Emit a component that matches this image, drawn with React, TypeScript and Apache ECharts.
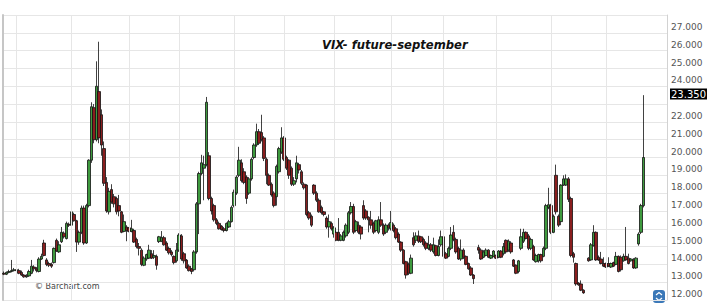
import React, { useEffect, useRef } from "react";
import * as echarts from "echarts";

// [open, close, low, high] per trading day, null = no data
const candlesA: ([number, number, number, number] | null)[] = [
  [13.0, 12.95, 12.9, 13.1], [12.95, 13.05, 12.9, 13.1], [13.05, 13.1, 13.0, 13.2], [13.1, 13.15, 13.05, 13.75],
  [13.15, 13.2, 13.1, 13.3], [13.2, 13.15, 13.05, 13.3], [13.15, 13.0, 12.95, 13.25], [13.05, 12.9, 12.85, 13.15],
  [12.9, 12.8, 12.75, 12.95], [12.8, 12.85, 12.75, 12.95], [12.85, 13.1, 12.8, 13.2], [13.0, 13.4, 12.95, 13.75],
  [13.35, 13.25, 13.1, 13.45], [13.25, 13.15, 13.05, 13.35], [13.1, 13.8, 13.05, 13.9], [13.8, 13.95, 13.75, 14.1],
  [14.7, 14.0, 13.95, 14.88], [13.75, 13.5, 13.4, 13.85], [13.55, 13.45, 13.35, 13.65], [13.5, 13.4, 13.3, 13.6],
  [13.6, 14.4, 13.55, 14.45], [14.85, 14.25, 14.2, 14.95], [14.2, 14.6, 14.15, 14.8], [14.77, 15.3, 14.7, 15.6],
  [15.25, 15.05, 14.95, 15.35], [14.95, 15.8, 14.9, 15.9], [15.75, 15.7, 15.6, 15.85], [15.7, 16.45, 15.65, 16.75],
  [16.3, 15.95, 15.9, 16.4], [15.95, 14.75, 14.2, 16.0], [14.75, 15.3, 14.6, 15.4], [15.3, 16.66, 15.2, 16.8],
  [16.66, 14.7, 14.6, 16.8], [14.7, 16.8, 14.65, 16.9], [16.8, 19.35, 16.7, 19.4], [19.35, 22.35, 19.2, 22.6],
  [22.3, 20.5, 20.3, 22.5], [20.5, 23.5, 20.4, 24.9], [23.2, 20.6, 20.3, 26.0], [21.9, 20.2, 19.6, 22.2],
  [20.0, 18.05, 17.9, 20.4], [18.1, 16.5, 16.4, 18.4], [16.45, 17.6, 16.3, 17.8], [17.7, 17.0, 16.9, 18.0],
  [17.3, 16.9, 16.7, 17.45], [17.2, 16.45, 16.3, 17.3], [16.8, 16.5, 16.2, 17.4], [16.45, 15.3, 15.25, 16.5],
  [15.35, 15.9, 15.3, 16.3], [15.6, 15.4, 14.8, 15.7],
];
const candlesB: ([number, number, number, number] | null)[] = [
  [15.55, 15.35, 15.3, 15.6], [15.35, 15.5, 15.3, 16.0], [15.4, 14.75, 14.7, 15.5], [14.9, 14.5, 14.4, 15.0],
  [14.5, 14.4, 14.0, 14.7], [14.3, 13.5, 13.4, 14.4], [13.45, 13.85, 13.4, 13.95], [13.8, 14.05, 13.7, 14.1],
  [13.85, 14.3, 13.8, 14.6], [14.1, 13.85, 13.8, 14.3], [13.9, 14.0, 13.8, 14.3], [13.95, 13.45, 13.2, 14.05],
  [14.78, 15.05, 14.7, 15.1], [14.8, 15.0, 14.75, 15.37], [15.0, 14.6, 14.55, 15.1], [14.7, 14.3, 14.25, 14.8],
  [14.4, 14.15, 14.05, 14.5], [14.2, 14.05, 13.95, 14.3], [13.95, 13.6, 13.5, 14.0], [13.7, 14.3, 13.6, 14.7],
  [14.3, 15.15, 14.2, 15.25], [15.1, 13.8, 13.7, 15.2], [14.1, 13.7, 13.55, 14.2], [13.74, 13.3, 13.25, 13.8],
  [13.4, 13.15, 13.1, 13.5], [13.25, 13.1, 12.95, 13.3], [13.2, 14.2, 13.1, 14.3], [14.2, 16.9, 14.1, 17.0],
  [16.9, 18.6, 15.2, 18.7], [18.6, 19.2, 18.5, 19.65], [18.9, 19.1, 17.1, 19.6], [19.1, 22.6, 19.0, 22.9],
  [19.6, 17.2, 17.1, 19.8], [17.2, 16.5, 16.3, 17.3], [16.8, 16.0, 15.9, 16.9], [16.0, 15.8, 15.7, 16.1],
  [15.8, 15.5, 15.45, 15.9], [15.65, 15.45, 15.4, 15.7], [15.5, 15.4, 15.3, 15.6], [15.4, 15.8, 15.35, 15.85],
  [15.6, 15.9, 15.55, 16.0], [15.9, 16.7, 15.85, 16.8], [16.8, 17.55, 16.7, 17.7], [17.5, 18.4, 17.4, 18.5],
  [18.5, 19.35, 18.4, 20.1], [19.2, 18.2, 18.1, 19.4], [18.7, 18.1, 18.0, 18.9], [18.4, 17.2, 16.9, 18.5],
  [17.5, 18.3, 17.4, 18.4], [18.3, 19.4, 18.2, 19.5],
];
const candlesC: ([number, number, number, number] | null)[] = [
  [19.5, 20.2, 19.4, 20.3], [20.2, 20.95, 20.1, 21.4], [20.95, 20.3, 20.2, 21.1], [20.9, 20.5, 20.4, 21.9],
  [20.6, 19.45, 19.3, 20.7], [19.4, 18.5, 18.0, 19.5], [18.5, 17.95, 17.9, 18.6], [18.0, 17.4, 17.3, 18.1],
  [17.5, 16.8, 16.7, 17.6], [17.3, 19.0, 16.8, 19.1], [18.7, 20.0, 18.6, 20.1], [19.8, 20.6, 19.7, 21.2],
  [20.6, 19.4, 19.3, 20.7], [19.5, 18.9, 18.8, 19.6], [19.35, 18.5, 18.3, 19.4], [18.9, 18.0, 17.9, 19.0],
  [18.0, 18.2, 17.9, 18.4], [18.3, 19.2, 18.1, 19.6], [19.1, 18.8, 18.6, 19.2], [18.7, 18.05, 17.95, 18.8],
  [18.0, 17.8, 17.7, 18.1], [17.95, 16.3, 16.2, 18.0], [16.4, 16.1, 16.0, 16.5], [16.2, 15.7, 15.6, 16.3],
  [17.95, 17.5, 17.4, 18.0], [17.5, 17.1, 17.0, 17.6], [17.1, 16.45, 16.4, 17.2], [16.7, 16.4, 16.3, 16.8],
  [16.45, 16.3, 16.2, 16.5], [16.1, 15.6, 15.5, 16.2], [15.6, 15.9, 15.0, 16.3], [15.8, 15.5, 15.4, 15.9],
  [15.2, 15.55, 15.0, 15.65], [15.3, 14.85, 14.8, 15.4], [15.3, 14.85, 14.8, 16.1], [14.85, 15.1, 14.8, 15.2],
  [14.85, 15.3, 14.8, 15.4], [15.1, 15.7, 15.0, 15.8], [15.3, 16.4, 15.2, 16.5], [16.4, 16.75, 16.3, 17.0],
  [16.75, 15.3, 15.2, 16.9], [15.4, 15.9, 15.3, 16.0], [15.7, 15.3, 15.2, 15.9], [15.6, 15.2, 14.9, 15.7],
  [16.8, 16.1, 16.0, 17.1], [16.5, 16.1, 16.0, 16.6], [16.15, 16.0, 15.3, 16.2], [16.0, 15.7, 15.5, 16.5],
  [15.8, 15.3, 15.2, 15.9], [15.4, 15.95, 15.3, 16.0],
];
const candlesD: ([number, number, number, number] | null)[] = [
  [15.3, 16.0, 15.2, 16.2], [16.0, 15.7, 15.6, 17.0], [15.7, 15.2, 15.1, 15.8], [15.3, 15.7, 15.2, 15.8],
  [15.7, 15.55, 15.4, 15.8], [15.5, 15.85, 15.4, 16.5], [15.7, 15.4, 15.3, 15.8], [15.5, 15.0, 14.9, 15.6],
  [15.2, 14.75, 14.7, 15.3], [14.75, 14.3, 14.2, 14.8], [14.3, 13.55, 13.5, 14.35], [13.65, 12.9, 12.7, 13.7],
  [13.5, 13.0, 12.9, 13.6], [13.0, 13.85, 12.95, 14.05], [15.0, 14.6, 14.5, 15.3], [14.85, 15.1, 14.7, 15.3],
  [15.1, 14.8, 14.7, 15.4], [15.05, 14.77, 14.7, 15.1], [14.9, 14.6, 14.5, 15.0], [14.7, 14.4, 14.3, 14.8],
  [14.4, 14.6, 14.3, 15.1], [14.6, 14.3, 14.2, 14.7], [14.2, 14.6, 14.1, 15.0], [14.55, 14.0, 13.95, 14.6],
  [14.0, 14.5, 13.95, 14.9], [14.6, 15.05, 14.5, 15.4], [15.05, 13.95, 13.9, 15.1], [14.1, 13.85, 13.8, 14.2],
  [13.95, 14.4, 13.9, 14.5], [14.4, 15.15, 14.3, 15.6], [15.3, 14.9, 14.8, 15.7], [14.9, 14.2, 14.1, 15.0],
  [14.4, 13.8, 13.75, 14.5], [13.8, 14.3, 13.7, 14.9], [14.3, 13.9, 13.8, 14.4], [13.95, 13.5, 13.45, 14.0],
  [13.55, 13.25, 13.2, 13.6], [13.3, 12.9, 12.85, 13.4], [12.9, 12.7, 12.4, 12.95], null,
  [14.45, 14.3, 14.1, 14.6], [14.3, 13.8, 13.75, 14.4], [13.9, 14.2, 13.85, 14.3], [14.0, 14.3, 13.95, 14.4],
  [14.3, 13.9, 13.85, 14.35], [13.85, 14.0, 13.8, 14.05], [13.95, 14.25, 13.9, 14.3], [14.0, 13.85, 13.8, 14.05],
  [13.9, 14.25, 13.85, 14.3], [14.25, 13.9, 13.85, 14.3],
];
const candlesE: ([number, number, number, number] | null)[] = [
  [14.1, 14.5, 14.0, 14.7], [14.85, 14.2, 14.1, 14.9], [14.3, 14.8, 14.2, 14.9], [14.7, 14.2, 14.1, 14.8],
  [13.75, 13.4, 13.35, 13.8], [13.45, 13.0, 12.95, 13.5], [13.1, 13.7, 13.0, 13.75], [14.4, 15.05, 14.3, 15.5],
  [14.8, 15.3, 14.7, 15.5], [15.3, 14.95, 14.9, 15.35], [15.1, 14.4, 14.3, 15.2], [14.4, 14.9, 14.3, 15.0],
  [14.5, 13.75, 13.7, 14.6], [13.65, 14.0, 13.6, 14.1], [13.7, 14.05, 13.6, 14.1], [14.05, 13.7, 13.6, 14.1],
  [13.95, 14.4, 13.9, 14.5], [14.4, 16.8, 14.3, 16.9], [16.7, 16.85, 16.6, 17.8], [16.8, 15.3, 15.2, 16.9],
  [15.3, 16.2, 15.25, 16.3], [18.5, 16.45, 16.3, 19.1], [16.2, 15.7, 15.6, 16.3], [15.9, 17.95, 15.7, 18.0],
  [17.95, 18.3, 17.9, 18.5], [17.95, 18.3, 17.9, 18.55], [18.3, 17.15, 17.0, 18.4], [17.2, 14.0, 13.9, 17.3],
  [14.1, 13.9, 13.6, 14.2], [13.55, 12.4, 12.3, 13.6], [12.45, 12.35, 12.3, 12.5], [12.4, 12.05, 12.0, 12.6],
  [12.05, 11.9, 11.85, 12.1], null, [13.85, 13.7, 13.65, 13.9], [13.75, 14.6, 13.7, 14.7],
  [14.55, 15.3, 14.5, 15.7], [15.3, 13.75, 13.7, 15.35], [13.9, 13.75, 13.7, 14.0], [13.8, 13.55, 13.5, 14.2],
  [13.55, 13.4, 13.35, 13.9], [13.55, 13.35, 13.3, 13.6], [13.55, 13.4, 13.35, 13.9], [13.35, 13.55, 13.3, 13.6],
  [13.6, 13.4, 13.35, 13.65], [13.5, 13.95, 13.45, 14.2], [13.95, 13.1, 13.05, 14.0], [13.9, 13.2, 13.1, 14.0],
  [13.7, 13.95, 13.65, 14.1], [13.95, 13.75, 13.7, 15.6], [13.85, 13.55, 13.5, 14.1], [13.7, 13.8, 13.65, 13.85],
  [13.75, 13.3, 13.25, 13.85], [13.3, 13.85, 13.25, 13.9], [14.65, 15.2, 14.55, 15.3], [15.3, 16.8, 15.2, 16.9],
  [16.8, 19.5, 16.7, 23.0],
];

const monthStarts = [5, 27, 50, 70, 92, 112, 132, 155, 176, 197, 219, 241];
const yTickLabels = [12, 13, 14, 15, 16, 17, 18, 19, 20, 21, 22, 24, 25, 26, 27];
const lastPrice = 23.35;
const emptySlotsAfter = 9;
const titleText = "VIX- future-september";
const watermark = "\u00A9 Barchart.com";

export default function App() {
  const ref = useRef<HTMLDivElement>(null);
  useEffect(() => {
    if (!ref.current) return;
    const chart = echarts.init(ref.current, null, { renderer: "svg" });
    const bars = [...candlesA, ...candlesB, ...candlesC, ...candlesD, ...candlesE];
    const total = bars.length + emptySlotsAfter;
    const cats = Array.from({ length: total }, (_, i) => String(i));
    const data = bars.map((b) => (b ? b : "-"));
    chart.setOption({
      animation: false,
      backgroundColor: "#ffffff",
      title: {
        text: titleText,
        left: 322,
        top: 39,
        padding: 0,
        textStyle: {
          fontFamily: "DejaVu Sans",
          fontSize: 11.6,
          fontStyle: "italic",
          fontWeight: "bold",
          color: "#111",
        },
      },
      grid: { left: 3, right: 53, top: 15, bottom: 3, containLabel: false },
      xAxis: {
        type: "category",
        data: cats,
        boundaryGap: true,
        axisLine: { show: false },
        axisTick: { show: false },
        axisLabel: { show: false },
        splitLine: { show: false },
      },
      yAxis: [
        {
          type: "value",
          position: "right",
          min: 11.5,
          max: 27.5,
          interval: 1,
          splitLine: { show: true, lineStyle: { color: "#e6e6e6", width: 1 } },
          axisLine: { show: true, lineStyle: { color: "#d2d2d2", width: 1 } },
          axisTick: { show: false },
          axisLabel: {
            customValues: yTickLabels,
            formatter: (v: number) => "{g|}\n{v|" + v.toFixed(3) + "}",
            color: "#555",
            fontFamily: "DejaVu Sans",
            fontSize: 9,
            margin: 4,
            rich: {
              g: { height: 6 },
              v: { color: "#555", fontFamily: "DejaVu Sans", fontSize: 9, lineHeight: 11 },
            },
          },
        },
        {
          type: "value",
          position: "left",
          min: 11.5,
          max: 27.5,
          splitLine: { show: false },
          axisTick: { show: false },
          axisLabel: { show: false },
          axisLine: { show: true, lineStyle: { color: "#c6c6c6", width: 2 } },
        },
      ],
      series: [
        {
          type: "line",
          data: [],
          z: 1,
          silent: true,
          markLine: {
            silent: true,
            symbol: "none",
            label: { show: false },
            lineStyle: { color: "#e6e6e6", width: 1, type: "solid" },
            data: monthStarts.map((m) => ({ xAxis: m - 0.5 })),
          },
        },
        {
          type: "candlestick",
          data,
          z: 2,
          barWidth: 3,
          itemStyle: {
            color: "#3e9a3e",
            color0: "#8a1e1e",
            borderColor: "#111",
            borderColor0: "#111",
            borderWidth: 0.8,
          },
        },
        {
          type: "line",
          data: [],
          z: 3,
          silent: true,
          markLine: {
            silent: true,
            symbol: "none",
            lineStyle: { color: "rgba(0,0,0,0)", width: 0 },
            data: [{ yAxis: lastPrice }],
            label: {
              show: true,
              position: "end",
              distance: 3,
              formatter: () => "{gap|}\n{box|" + lastPrice.toFixed(3) + "}",
              rich: {
                gap: { height: 10 },
                box: {
                  backgroundColor: "#000",
                  color: "#fff",
                  fontFamily: "DejaVu Sans",
                  fontSize: 10,
                  lineHeight: 13,
                  padding: [1, 1, 0, 1],
                },
              },
            },
          },
        },
      ],
      graphic: [
        {
          type: "text",
          left: 35,
          top: 282,
          style: { text: watermark, font: "8px 'DejaVu Sans'", fill: "#444" },
        },
        {
          type: "rect",
          shape: { x: 653, y: 290, width: 12, height: 13, r: 3 },
          style: { fill: "#3b78b8" },
        },
        {
          type: "polyline",
          shape: { points: [[656, 295], [659, 292.5], [662, 295]] },
          style: { stroke: "#fff", lineWidth: 1.2, fill: null },
        },
        {
          type: "polyline",
          shape: { points: [[656, 298], [659, 300.5], [662, 298]] },
          style: { stroke: "#fff", lineWidth: 1.2, fill: null },
        },
      ],
    });
    return () => chart.dispose();
  }, []);
  return (
    <div
      ref={ref}
      style={{ position: "fixed", left: 0, top: 0, width: 720, height: 303, background: "#fff" }}
    />
  );
}
